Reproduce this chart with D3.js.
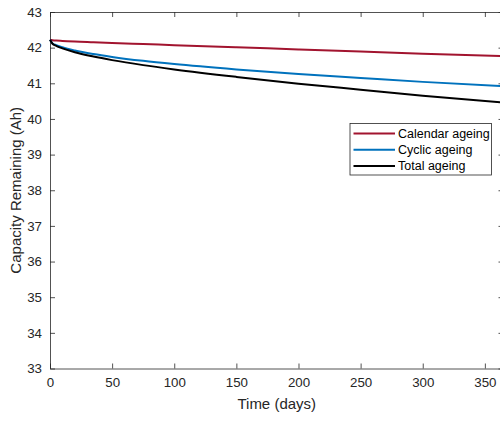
<!DOCTYPE html>
<html>
<head>
<meta charset="utf-8">
<script src="https://cdn.jsdelivr.net/npm/d3@7"></script>
<style>
  body { margin: 0; background: #fff; }
  svg { display: block; font-family: "Liberation Sans", Arial, sans-serif; }
</style>
</head>
<body>
<div id="chart"></div>
<script>
// datos
const days     = [0, 2, 5, 10, 20, 35, 50, 75, 100, 150, 200, 250, 300, 365]
const calendar = [42.22, 42.21, 42.20, 42.19, 42.17, 42.15, 42.13, 42.10, 42.07, 42.01, 41.95, 41.89, 41.83, 41.76]
const cyclic   = [42.22, 42.12, 42.07, 42.01, 41.92, 41.82, 41.74, 41.63, 41.54, 41.39, 41.26, 41.15, 41.04, 40.92]
const total    = [42.22, 42.11, 42.05, 41.98, 41.87, 41.75, 41.65, 41.51, 41.39, 41.18, 40.99, 40.82, 40.65, 40.46]

const seriesNames  = ["Calendar ageing", "Cyclic ageing", "Total ageing"]
const seriesColors = ["#A2142F", "#0072BD", "#000000"]
const xTicks = [0, 50, 100, 150, 200, 250, 300, 350]
const yTicks = [33, 34, 35, 36, 37, 38, 39, 40, 41, 42, 43]

const width = 500
const height = 421
const margin = { top: 12, left: 50 }
const plotW = 453.5
const plotH = 356.5
const axisColor = "#262626"

const svg = d3.select("div#chart").append("svg").attr("width", width).attr("height", height)

const x = d3.scaleLinear().domain([0, 365]).range([0, plotW])
const y = d3.scaleLinear().domain([33, 43]).range([plotH, 0])

const g = svg.append("g").attr("transform", `translate(${margin.left}, ${margin.top})`)

// ejes (marcas hacia dentro, en los cuatro lados)
const xAxis = d3.axisBottom(x).tickValues(xTicks).tickSizeInner(-5).tickSizeOuter(0).tickPadding(9)
const yAxis = d3.axisLeft(y).tickValues(yTicks).tickSizeInner(-5).tickSizeOuter(0).tickPadding(8)

const xAxisGroup = g.append("g").attr("transform", `translate(0, ${plotH})`).call(xAxis)
const yAxisGroup = g.append("g").call(yAxis)
const xTop = g.append("g").call(d3.axisTop(x).tickValues(xTicks).tickSizeInner(-5).tickSizeOuter(0).tickFormat(""))
const yRight = g.append("g").attr("transform", `translate(${plotW}, 0)`)
    .call(d3.axisRight(y).tickValues(yTicks).tickSizeInner(-5).tickSizeOuter(0).tickFormat(""))

;[xAxisGroup, yAxisGroup, xTop, yRight].forEach(a => {
    a.select(".domain").attr("stroke", axisColor).attr("stroke-width", 0.8)
    a.selectAll(".tick line").attr("stroke", axisColor).attr("stroke-width", 0.8)
    a.selectAll(".tick text").attr("fill", axisColor).style("font-size", "13.3px")
        .style("font-family", "'Liberation Sans', Arial, sans-serif")
})

// líneas
const data = [calendar, cyclic, total]
const line = d3.line().x((d, i) => x(days[i])).y(d => y(d)).curve(d3.curveMonotoneX)

g.selectAll("path.serie").data(data).enter()
    .append("path")
    .attr("class", "serie")
    .attr("d", d => line(d))
    .attr("fill", "none")
    .attr("stroke", (d, i) => seriesColors[i])
    .attr("stroke-width", 2)

// títulos de ejes
svg.append("text")
    .attr("x", margin.left + plotW / 2).attr("y", 408.5)
    .attr("text-anchor", "middle").attr("fill", axisColor)
    .style("font-size", "15px")
    .text("Time (days)")

svg.append("text")
    .attr("transform", `translate(20.5, ${margin.top + plotH / 2}) rotate(-90)`)
    .attr("text-anchor", "middle").attr("fill", axisColor)
    .style("font-size", "15px")
    .text("Capacity Remaining (Ah)")

// leyenda
const legend = svg.append("g").attr("transform", "translate(350, 123.5)")
legend.append("rect")
    .attr("width", 141.5).attr("height", 51.5)
    .attr("fill", "#fff").attr("stroke", axisColor).attr("stroke-width", 0.8)

const items = legend.selectAll("g.item").data(seriesNames).enter()
    .append("g").attr("class", "item")
    .attr("transform", (d, i) => `translate(0, ${10 + i * 16.2})`)

items.append("line")
    .attr("x1", 3.5).attr("x2", 45)
    .attr("stroke", (d, i) => seriesColors[i]).attr("stroke-width", 2)

items.append("text")
    .attr("x", 48).attr("y", 4.5)
    .attr("fill", "#000")
    .style("font-size", "12.5px")
    .text(d => d)
</script>
</body>
</html>
